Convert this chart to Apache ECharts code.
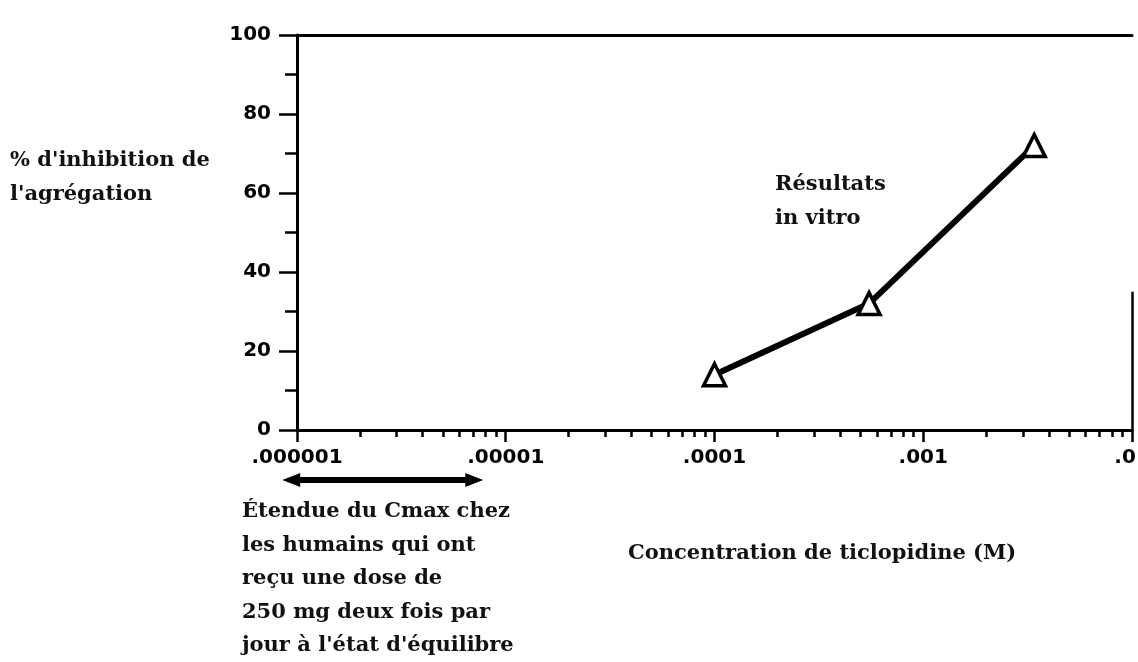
<!DOCTYPE html>
<html>
<head>
<meta charset="utf-8">
<style>
  html, body { margin: 0; padding: 0; background: #fff; }
  #chart { width: 1138px; height: 662px; }
</style>
<script src="https://cdn.jsdelivr.net/npm/echarts@6/dist/echarts.min.js"></script>
</head>
<body>
<div id="chart"></div>
<script>
var chart = echarts.init(document.getElementById('chart'));

// in vitro results: concentration (M) vs % inhibition
var concentrations = [0.0001, 0.00055, 0.0034];
var inhibition = [14, 32, 72];

// axis ticks
var xTicks = [0.000001, 0.00001, 0.0001, 0.001, 0.01];
var yTicks = [0, 20, 40, 60, 80, 100];
var minorMultipliers = [2, 3, 4, 5, 6, 7, 8, 9];

// Cmax range in humans (M), shown as a double arrow under the axis
var cmaxRange = [0.00000085, 0.0000078];

var minorTicks = [];
xTicks.slice(0, -1).forEach(function (d) {
    minorMultipliers.forEach(function (m) {
        minorTicks.push(+(d * m).toPrecision(2));
    });
});

function fmtConc(v) {
    var n = Math.round(-Math.log10(v));
    return v.toFixed(n).replace(/^0/, '');
}

var serif = {
    fontFamily: 'DejaVu Serif',
    fontWeight: 'bold',
    fontSize: 21,
    lineHeight: 33.5,
    fill: '#111'
};

var option = {
    animation: false,
    backgroundColor: '#fff',
    grid: {
        left: 297,
        right: 6,
        top: 35,
        bottom: 232,
        outerBoundsMode: 'none'
    },
    xAxis: [
        {
            type: 'log',
            logBase: 10,
            min: xTicks[0],
            max: xTicks[xTicks.length - 1],
            position: 'bottom',
            axisLine: { lineStyle: { color: '#000', width: 3 } },
            axisTick: {
                inside: false,
                length: 12,
                customValues: xTicks,
                lineStyle: { color: '#000', width: 2.5 }
            },
            axisLabel: {
                customValues: xTicks,
                formatter: fmtConc,
                margin: 18,
                color: '#000',
                fontFamily: 'DejaVu Sans',
                fontWeight: 'bold',
                fontSize: 20
            },
            splitLine: { show: false }
        },
        {
            // minor ticks 2..9 of each decade
            type: 'log',
            logBase: 10,
            min: xTicks[0],
            max: xTicks[xTicks.length - 1],
            position: 'bottom',
            axisLine: { show: false },
            axisTick: {
                inside: false,
                length: 7,
                customValues: minorTicks,
                lineStyle: { color: '#000', width: 2.5 }
            },
            axisLabel: { show: false },
            splitLine: { show: false }
        },
        {
            // top frame line
            type: 'log',
            logBase: 10,
            min: xTicks[0],
            max: xTicks[xTicks.length - 1],
            position: 'top',
            axisLine: { lineStyle: { color: '#000', width: 3 } },
            axisTick: { show: false },
            axisLabel: { show: false },
            splitLine: { show: false }
        }
    ],
    yAxis: {
        type: 'value',
        min: yTicks[0],
        max: yTicks[yTicks.length - 1],
        interval: 20,
        axisLine: { show: true, lineStyle: { color: '#000', width: 3 } },
        axisTick: {
            inside: false,
            length: 18,
            lineStyle: { color: '#000', width: 2.5 }
        },
        minorTick: {
            show: true,
            splitNumber: 2,
            length: 12,
            lineStyle: { color: '#000', width: 2.5 }
        },
        axisLabel: {
            margin: 26,
            color: '#000',
            fontFamily: 'DejaVu Sans',
            fontWeight: 'bold',
            fontSize: 20
        },
        splitLine: { show: false }
    },
    series: [
        {
            name: 'Résultats in vitro',
            type: 'line',
            xAxisIndex: 0,
            data: concentrations.map(function (c, i) { return [c, inhibition[i]]; }),
            symbol: 'triangle',
            symbolSize: 22,
            lineStyle: { color: '#000', width: 6 },
            itemStyle: { color: '#fff', borderColor: '#000', borderWidth: 3.5 },
            z: 5,
            markLine: {
                // partial right frame
                silent: true,
                symbol: 'none',
                label: { show: false },
                lineStyle: { color: '#000', width: 2.5, type: 'solid' },
                data: [[{ coord: [0.01, 0] }, { coord: [0.01, 35] }]]
            }
        }
    ]
};

chart.setOption(option);

// texts and the Cmax arrow
var p0 = chart.convertToPixel({ xAxisIndex: 0, yAxisIndex: 0 }, [cmaxRange[0], 0]);
var p1 = chart.convertToPixel({ xAxisIndex: 0, yAxisIndex: 0 }, [cmaxRange[1], 0]);
var ay = p0[1] + 50;

chart.setOption({
    graphic: [
        { type: 'text', left: 10, top: 144, style: Object.assign({ text: "% d'inhibition de\nl'agrégation" }, serif) },
        { type: 'text', left: 775, top: 168, style: Object.assign({ text: 'Résultats\nin vitro' }, serif) },
        { type: 'text', left: 628, top: 537, style: Object.assign({ text: 'Concentration de ticlopidine (M)' }, serif) },
        {
            type: 'text', left: 242, top: 495,
            style: Object.assign({
                text: 'Étendue du Cmax chez\nles humains qui ont\nreçu une dose de\n250 mg deux fois par\njour à l\'état d\'équilibre'
            }, serif)
        },
        {
            type: 'line',
            shape: { x1: p0[0] + 10, y1: ay, x2: p1[0] - 10, y2: ay },
            style: { stroke: '#000', lineWidth: 6 }
        },
        {
            type: 'polygon',
            shape: { points: [[p0[0], ay], [p0[0] + 18, ay - 7], [p0[0] + 18, ay + 7]] },
            style: { fill: '#000' }
        },
        {
            type: 'polygon',
            shape: { points: [[p1[0], ay], [p1[0] - 18, ay - 7], [p1[0] - 18, ay + 7]] },
            style: { fill: '#000' }
        }
    ]
});
</script>
</body>
</html>
